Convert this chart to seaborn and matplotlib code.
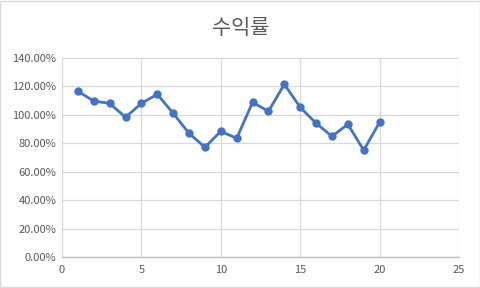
import matplotlib
matplotlib.use("Agg")
import matplotlib.pyplot as plt
import seaborn as sns
import pandas as pd
from matplotlib.ticker import FuncFormatter, MultipleLocator

periods = list(range(1, 21))
returns = [116.6, 109.7, 108.1, 98.3, 108.1, 114.5, 101.1, 87.0, 77.2, 88.4,
           83.5, 108.8, 102.5, 121.5, 105.3, 94.1, 84.9, 93.4, 75.1, 94.8]
title = "수익률"

df = pd.DataFrame({"x": periods, "y": [v / 100 for v in returns]})

sns.set_theme(style="white")
plt.rcParams['font.family'] = ['Noto Sans CJK KR', 'DejaVu Sans']

fig = plt.figure(figsize=(4.81, 2.88), dpi=100)
ax = fig.add_axes([62/481, 1-257/288, (459-62)/481, (257-58)/288])

sns.lineplot(data=df, x="x", y="y", ax=ax, color="#4472C4", linewidth=2.0,
             marker="o", markersize=6, markeredgewidth=0)

ax.set_xlim(0, 25)
ax.set_ylim(0, 1.4)
ax.xaxis.set_major_locator(MultipleLocator(5))
ax.yaxis.set_major_locator(MultipleLocator(0.2))
ax.yaxis.set_major_formatter(FuncFormatter(lambda v, p: f"{v*100:.2f}%"))
ax.grid(True, color="#D9D9D9", linewidth=0.9)
ax.set_axisbelow(True)
for s in ["top", "right", "left"]:
    ax.spines[s].set_visible(False)
ax.spines["bottom"].set_color("#BFBFBF")
ax.spines["bottom"].set_linewidth(1.0)
ax.tick_params(axis="both", length=0, labelsize=8, labelcolor="#595959", pad=6)
ax.tick_params(axis="y", pad=4)
ax.set_xlabel("")
ax.set_ylabel("")

fig.text(0.5, 1-28/288, title, ha="center", va="center", fontsize=15, color="#595959")

border = plt.Rectangle((0.001, 0.002), 0.997, 0.995, transform=fig.transFigure,
                       fill=False, edgecolor="#D9D9D9", linewidth=1.0)
fig.patches.append(border)

fig.savefig("out.png", dpi=100, facecolor="white")
